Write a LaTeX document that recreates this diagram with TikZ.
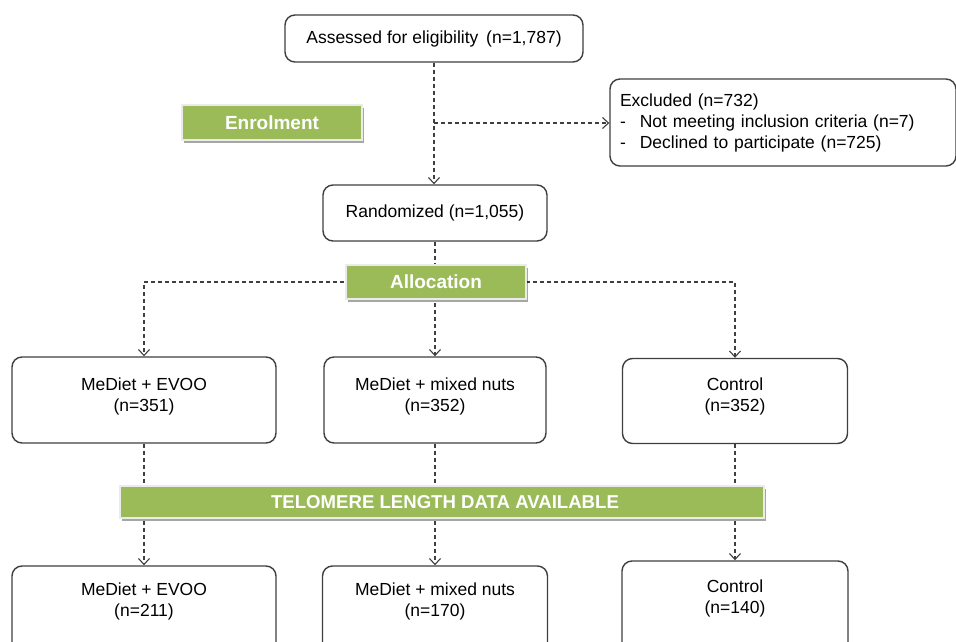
\documentclass[tikz,border=0pt]{standalone}
\usepackage{fontspec}
\setmainfont{Liberation Sans}
\usetikzlibrary{arrows.meta,shadows}
\definecolor{edge}{HTML}{3F3F3F}
\definecolor{leaf}{HTML}{9BBB59}
\tikzset{
  x=1pt, y=-1pt,
  boxfont/.style={font=\fontsize{17.5}{21}\selectfont, text=black},
  box/.style={draw=edge, line width=1.4pt, rounded corners=10pt, fill=white,
    inner sep=0pt, align=center, boxfont},
  banner/.style={fill=leaf, draw=white!92!black, line width=1.5pt, inner sep=0pt,
    text=white, font=\bfseries\fontsize{19}{22}\selectfont,
    drop shadow={shadow xshift=2pt, shadow yshift=-2.5pt, opacity=0.35, fill=black}},
  flow/.style={draw=edge, line width=1.4pt, dash pattern=on 4pt off 3pt},
  flowarrow/.style={flow, -{Straight Barb[length=6pt, width=11pt, line width=1.1pt]}}
}
% arm box: name, x, y, width, height, offset of the two-line text below the top edge
\newcommand\armbox[6]{%
  \node[box, minimum width=#4pt, minimum height=#5pt,
        label={[anchor=north, yshift=#6pt, inner sep=0pt, align=center, boxfont]north:\armtext}]
        (#1) at (#2,#3) {};}
\begin{document}
\begin{tikzpicture}
\useasboundingbox (0,0) rectangle (956,642);
\clip (0,0) rectangle (956,642);

% screening and randomisation
\node[box, minimum width=298pt, minimum height=47pt] (assess) at (434,38.5)
  {Assessed for eligibility\, (n=1,787)};
\node[box, minimum width=346pt, minimum height=87pt, align=left, text width=326pt]
  (excl) at (783,122.5)
  {Excluded (n=732)\\
   -\hspace{14pt}Not meeting inclusion criteria (n=7)\\
   -\hspace{14pt}Declined to participate (n=725)};
\node[box, minimum width=224pt, minimum height=56pt] (rand) at (435,213)
  {Randomized (n=1,055)};

% arms after allocation
\def\armtext{MeDiet + EVOO\\(n=351)}
\armbox{evooA}{144}{400}{264}{86}{-21}
\def\armtext{MeDiet + mixed nuts\\(n=352)}
\armbox{nutsA}{435}{400}{222}{86}{-21}
\def\armtext{Control\\(n=352)}
\armbox{ctrlA}{735}{401}{225}{85}{-20}

% arms with telomere data
\def\armtext{MeDiet + EVOO\\(n=211)}
\armbox{evooB}{144}{621}{264}{110}{-17.5}
\def\armtext{MeDiet + mixed nuts\\(n=170)}
\armbox{nutsB}{435}{621}{225}{110}{-17.5}
\def\armtext{Control\\(n=140)}
\armbox{ctrlB}{735}{619}{226}{116}{-19.5}

% connectors
\coordinate (split) at (434,123);
\draw[flowarrow] (assess.south) -- (assess.south |- rand.north);
\draw[flowarrow] (split) -- (split -| excl.west);
\coordinate (allocTop) at (435,266);
\coordinate (allocMid) at (435,282);
\draw[flow] (rand.south) -- (allocTop);
\draw[flowarrow] (allocMid) -- (nutsA.north);
\draw[flowarrow] (allocMid) -| (evooA.north);
\draw[flowarrow] (allocMid) -| (ctrlA.north);
\draw[flowarrow] (evooA.south) -- (evooB.north);
\draw[flowarrow] (nutsA.south) -- (nutsB.north);
\draw[flowarrow] (ctrlA.south) -- (ctrlB.north);

% section banners
\node[banner, minimum width=180pt, minimum height=35pt] (enrol) at (272,122.5) {Enrolment};
\node[banner, minimum width=180pt, minimum height=34pt] (alloc) at (436,282) {Allocation};
\node[banner, minimum width=644pt, minimum height=32pt, font=\bfseries\fontsize{18.6}{22}\selectfont]
  (telo) at (442,502) {\hspace{6pt}TELOMERE LENGTH DATA AVAILABLE};
\end{tikzpicture}
\end{document}
